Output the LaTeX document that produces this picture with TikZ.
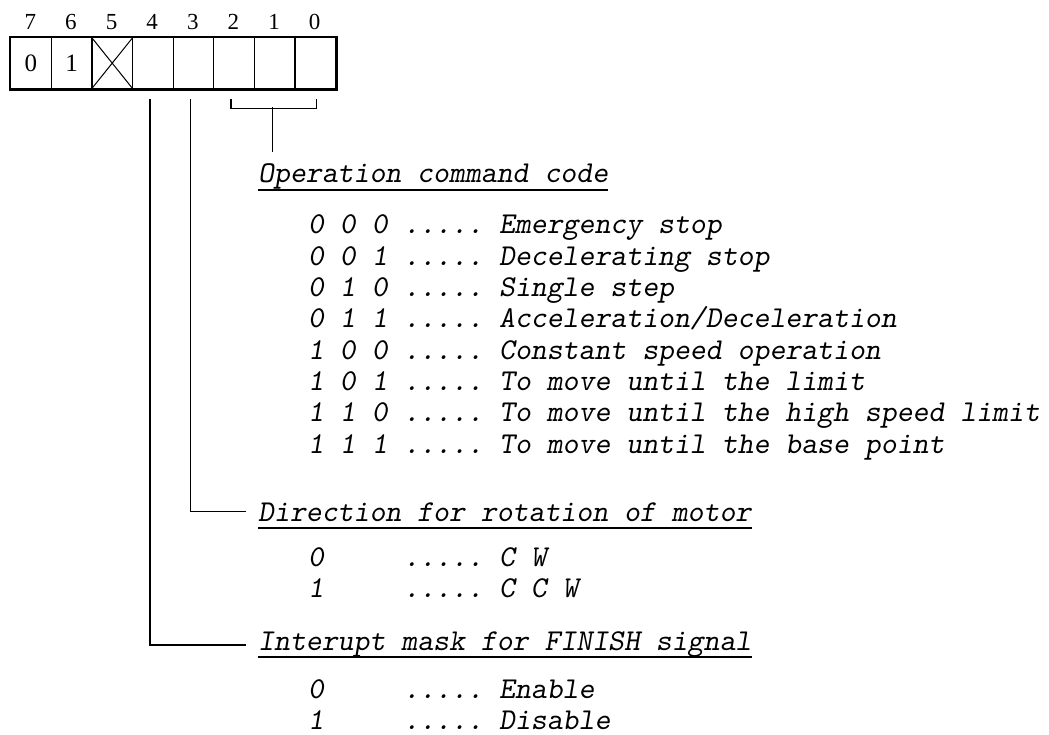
\documentclass[tikz,border=0pt]{standalone}
\usepackage{fontspec}
\setmainfont{Liberation Serif}
\begin{document}
\begin{tikzpicture}[x=1pt,y=-1pt,
  lbl/.style={font=\fontsize{23}{23}\selectfont, inner sep=0},
  cellbox/.style={draw, line width=1.3pt, minimum width=40.625pt, minimum height=51pt, inner sep=0, anchor=north west, font=\fontsize{25}{25}\selectfont},
  mono/.style={font=\fontsize{30.3}{31}\selectfont\ttfamily\slshape, inner sep=0, anchor=base west},
  conn/.style={line width=1.5pt},
  uline/.style={line width=1.3pt}]
\useasboundingbox (0,0) rectangle (1049,735);
% register cells
\foreach \i/\t in {0/0,1/1,2/,3/,4/,5/,6/,7/}{
  \pgfmathtruncatemacro{\b}{7-\i}
  \node[cellbox] (c\b) at (10+40.625*\i,37) {\t};
  \node[lbl] (b\b) at (30.3+40.625*\i,22) {\b};
}
\draw[line width=2.8pt] (c7.north west) rectangle (c0.south east);
\draw[line width=1pt] (c5.north west) -- (c5.south east) (c5.south west) -- (c5.north east);
% bracket over bits 2..0
\draw[conn] ([yshift=-10pt,xshift=-3pt]c2.south) -- ([yshift=-19pt,xshift=-3pt]c2.south) -- ([yshift=-19pt,xshift=1pt]c0.south) -- ([yshift=-10pt,xshift=1pt]c0.south);
\coordinate (stemtop) at (272.5,107);
\coordinate (stembot) at (272.5,152);
\draw[conn] (stemtop) -- (stembot);
% headings
\node[mono] (op) at (258,183) {Operation\ command\ code};
\node[mono] (dir) at (258,521) {Direction\ for\ rotation\ of\ motor};
\node[mono] (int) at (258,650) {Interupt\ mask\ for\ FINISH\ signal};
\foreach \n in {op,dir,int}{
  \draw[uline] ([yshift=-7pt]\n.base west) -- ([yshift=-7pt]\n.base east);
}
% connectors from bits 4 and 3
\draw[conn] ([yshift=-10pt,xshift=-3pt]c3.south) |- ([xshift=-12pt]dir.west);
\draw[conn] ([yshift=-10pt,xshift=-3pt]c4.south) |- ([xshift=-12pt,yshift=-1pt]int.west);
% operation codes
\node[mono] (r0) at (308,234.0) {0\ 0\ 0\ .....\ Emergency\ stop};
\node[mono] (r1) at (308,265.3) {0\ 0\ 1\ .....\ Decelerating\ stop};
\node[mono] (r2) at (308,296.6) {0\ 1\ 0\ .....\ Single\ step};
\node[mono] (r3) at (308,327.9) {0\ 1\ 1\ .....\ Acceleration/Deceleration};
\node[mono] (r4) at (308,359.2) {1\ 0\ 0\ .....\ Constant\ speed\ operation};
\node[mono] (r5) at (308,390.5) {1\ 0\ 1\ .....\ To\ move\ until\ the\ limit};
\node[mono] (r6) at (308,421.8) {1\ 1\ 0\ .....\ To\ move\ until\ the\ high\ speed\ limit};
\node[mono] (r7) at (308,453.1) {1\ 1\ 1\ .....\ To\ move\ until\ the\ base\ point};
% direction
\node[mono] (d0) at (308,566) {0\ \ \ \ \ .....\ C\ W};
\node[mono] (d1) at (308,597) {1\ \ \ \ \ .....\ C\ C\ W};
% interrupt
\node[mono] (i0) at (308,698) {0\ \ \ \ \ .....\ Enable};
\node[mono] (i1) at (308,729) {1\ \ \ \ \ .....\ Disable};
\end{tikzpicture}
\end{document}
